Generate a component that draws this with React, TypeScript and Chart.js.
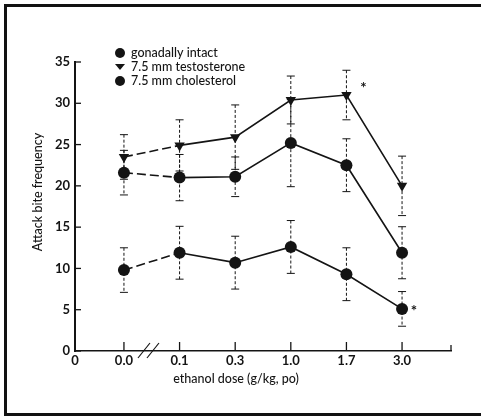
import React, { useEffect, useRef } from 'react';
import { Chart, registerables } from 'chart.js';

Chart.register(...registerables);

// ---- data ----
const xTickLabels = ['0', '0.0', '0.1', '0.3', '1.0', '1.7', '3.0'];
const doseIndex = [0, 1, 2, 3, 4, 5];
const seriesLabels = ['gonadally intact', '7.5 mm testosterone', '7.5 mm cholesterol'];
const intactMean = [9.8, 11.9, 10.7, 12.6, 9.3, 5.1];
const intactErr = [2.7, 3.2, 3.2, 3.2, 3.2, 2.1];
const testoMean = [23.5, 24.9, 25.9, 30.4, 31.0, 20.0];
const testoErr = [2.7, 3.1, 3.9, 2.9, 3.0, 3.6];
const cholMean = [21.6, 21.0, 21.1, 25.2, 22.5, 11.9];
const cholErr = [2.7, 2.8, 2.4, 5.3, 3.2, 3.15];
const yTickValues = [0, 5, 10, 15, 20, 25, 30, 35];
const xMin = -0.88;
const xMax = 5.88;
const yTitle = 'Attack bite frequency';
const xTitle = 'ethanol dose (g/kg, po)';

const errArrays = [intactErr, testoErr, cholErr];
const FONT = 'Lato, "Open Sans", sans-serif';
const INK = '#141414';

const annotate = {
  id: 'annotate',
  beforeDatasetsDraw(chart: any) {
    const ctx = chart.ctx;
    const xs = chart.scales.x;
    const ys = chart.scales.y;
    chart.data.datasets.forEach((ds: any, di: number) => {
      const errs = errArrays[di];
      ds.data.forEach((p: any, i: number) => {
        const e = errs[i];
        const px = xs.getPixelForValue(p.x);
        const top = ys.getPixelForValue(p.y + e);
        const bot = ys.getPixelForValue(p.y - e);
        ctx.save();
        ctx.strokeStyle = INK;
        ctx.lineWidth = 1;
        ctx.setLineDash([3, 2]);
        ctx.beginPath();
        ctx.moveTo(px, top);
        ctx.lineTo(px, bot);
        ctx.stroke();
        ctx.setLineDash([]);
        ctx.beginPath();
        ctx.moveTo(px - 4, top);
        ctx.lineTo(px + 4, top);
        ctx.moveTo(px - 4, bot);
        ctx.lineTo(px + 4, bot);
        ctx.stroke();
        ctx.restore();
      });
    });
  },
  afterDraw(chart: any) {
    const ctx = chart.ctx;
    const xs = chart.scales.x;
    const ys = chart.scales.y;
    const area = chart.chartArea;
    ctx.save();
    ctx.strokeStyle = INK;
    ctx.fillStyle = INK;
    ctx.lineWidth = 1.3;
    // inward y ticks
    yTickValues.forEach((v) => {
      const py = ys.getPixelForValue(v);
      ctx.beginPath();
      ctx.moveTo(area.left, py);
      ctx.lineTo(area.left + 6, py);
      ctx.stroke();
    });
    // inward x ticks
    doseIndex.forEach((v) => {
      const px = xs.getPixelForValue(v);
      ctx.beginPath();
      ctx.moveTo(px, area.bottom);
      ctx.lineTo(px, area.bottom - 9);
      ctx.stroke();
    });
    ctx.beginPath();
    ctx.moveTo(area.right, area.bottom);
    ctx.lineTo(area.right, area.bottom - 6);
    ctx.stroke();
    // axis break marks
    const bx = xs.getPixelForValue(0.45);
    ctx.lineWidth = 1.2;
    [-5, 4].forEach((off) => {
      ctx.beginPath();
      ctx.moveTo(bx + off - 6, area.bottom + 7);
      ctx.lineTo(bx + off + 6, area.bottom - 8);
      ctx.stroke();
    });
    // asterisks
    ctx.font = `bold 15px ${FONT}`;
    ctx.textAlign = 'center';
    ctx.textBaseline = 'middle';
    ctx.fillText('*', xs.getPixelForValue(4) + 17, ys.getPixelForValue(testoMean[4]) - 7);
    ctx.fillText('*', xs.getPixelForValue(5) + 12, ys.getPixelForValue(intactMean[5]) + 2);
    // legend
    const rows = [53, 67, 81];
    ctx.font = `500 12.5px ${FONT}`;
    ctx.textAlign = 'left';
    chart.data.datasets.forEach((ds: any, i: number) => {
      const y = rows[i];
      const mx = 120;
      ctx.beginPath();
      if (ds.pointStyle === 'triangle') {
        ctx.moveTo(mx - 5, y - 3);
        ctx.lineTo(mx + 5, y - 3);
        ctx.lineTo(mx, y + 3);
        ctx.closePath();
      } else {
        ctx.arc(mx, y, 5, 0, Math.PI * 2);
      }
      ctx.fill();
      ctx.fillText(ds.label, 131, y);
    });
    // axis titles
    ctx.font = `500 12.5px ${FONT}`;
    ctx.textAlign = 'center';
    ctx.fillText(xTitle, 236, 379);
    ctx.translate(38, 192);
    ctx.rotate(-Math.PI / 2);
    ctx.fillText(yTitle, 0, 0);
    ctx.restore();
  },
};

export default function App() {
  const ref = useRef<HTMLCanvasElement | null>(null);
  useEffect(() => {
    if (!ref.current) return;
    const mk = (means: number[]) => doseIndex.map((d, i) => ({ x: d, y: means[i] }));
    const common = {
      borderColor: INK,
      backgroundColor: INK,
      borderWidth: 1.6,
      pointBackgroundColor: INK,
      pointBorderColor: INK,
      pointBorderWidth: 0,
      fill: false,
      tension: 0,
      segment: {
        borderDash: (c: any) => (c.p0DataIndex === 0 ? [9, 4] : undefined),
      },
    };
    const chart = new Chart(ref.current, {
      type: 'line',
      data: {
        datasets: [
          { ...common, label: seriesLabels[0], data: mk(intactMean), pointStyle: 'circle', pointRadius: 6 },
          { ...common, label: seriesLabels[1], data: mk(testoMean), pointStyle: 'triangle', rotation: 180, pointRadius: 6 },
          { ...common, label: seriesLabels[2], data: mk(cholMean), pointStyle: 'circle', pointRadius: 6 },
        ],
      } as any,
      options: {
        animation: false,
        responsive: false,
        events: [],
        layout: { padding: { top: 62, right: 30, left: 0, bottom: 0 } },
        plugins: { legend: { display: false }, tooltip: { enabled: false } },
        scales: {
          x: {
            type: 'linear',
            min: xMin,
            max: xMax,
            afterBuildTicks: (s: any) => {
              s.ticks = [xMin, ...doseIndex].map((v) => ({ value: v }));
            },
            afterFit: (s: any) => {
              s.height = 65;
            },
            ticks: {
              autoSkip: false,
              maxRotation: 0,
              padding: 2,
              color: INK,
              font: { family: FONT, size: 13, weight: 'bold' },
              callback: (_v: any, i: number) => xTickLabels[i],
            },
            grid: { display: false, drawTicks: false },
            border: { display: true, color: INK, width: 1.5 },
          },
          y: {
            min: 0,
            max: 35,
            afterBuildTicks: (s: any) => {
              s.ticks = yTickValues.map((v) => ({ value: v }));
            },
            afterFit: (s: any) => {
              s.width = 75;
            },
            ticks: {
              padding: 5,
              color: INK,
              font: { family: FONT, size: 13, weight: 'bold' },
            },
            grid: { display: false, drawTicks: false },
            border: { display: true, color: INK, width: 2 },
          },
        },
      } as any,
      plugins: [annotate],
    });
    return () => chart.destroy();
  }, []);

  return (
    <div style={{ position: 'fixed', left: 0, top: 0, width: 481, height: 416, background: '#fff' }}>
      <canvas ref={ref} width={481} height={416} style={{ width: 481, height: 416, display: 'block' }} />
      <div
        style={{
          position: 'absolute',
          left: 4,
          top: 4,
          width: 477,
          height: 412,
          boxSizing: 'border-box',
          borderLeft: '3px solid #111',
          borderTop: '3px solid #111',
          borderBottom: '3px solid #111',
          pointerEvents: 'none',
        }}
      />
    </div>
  );
}
